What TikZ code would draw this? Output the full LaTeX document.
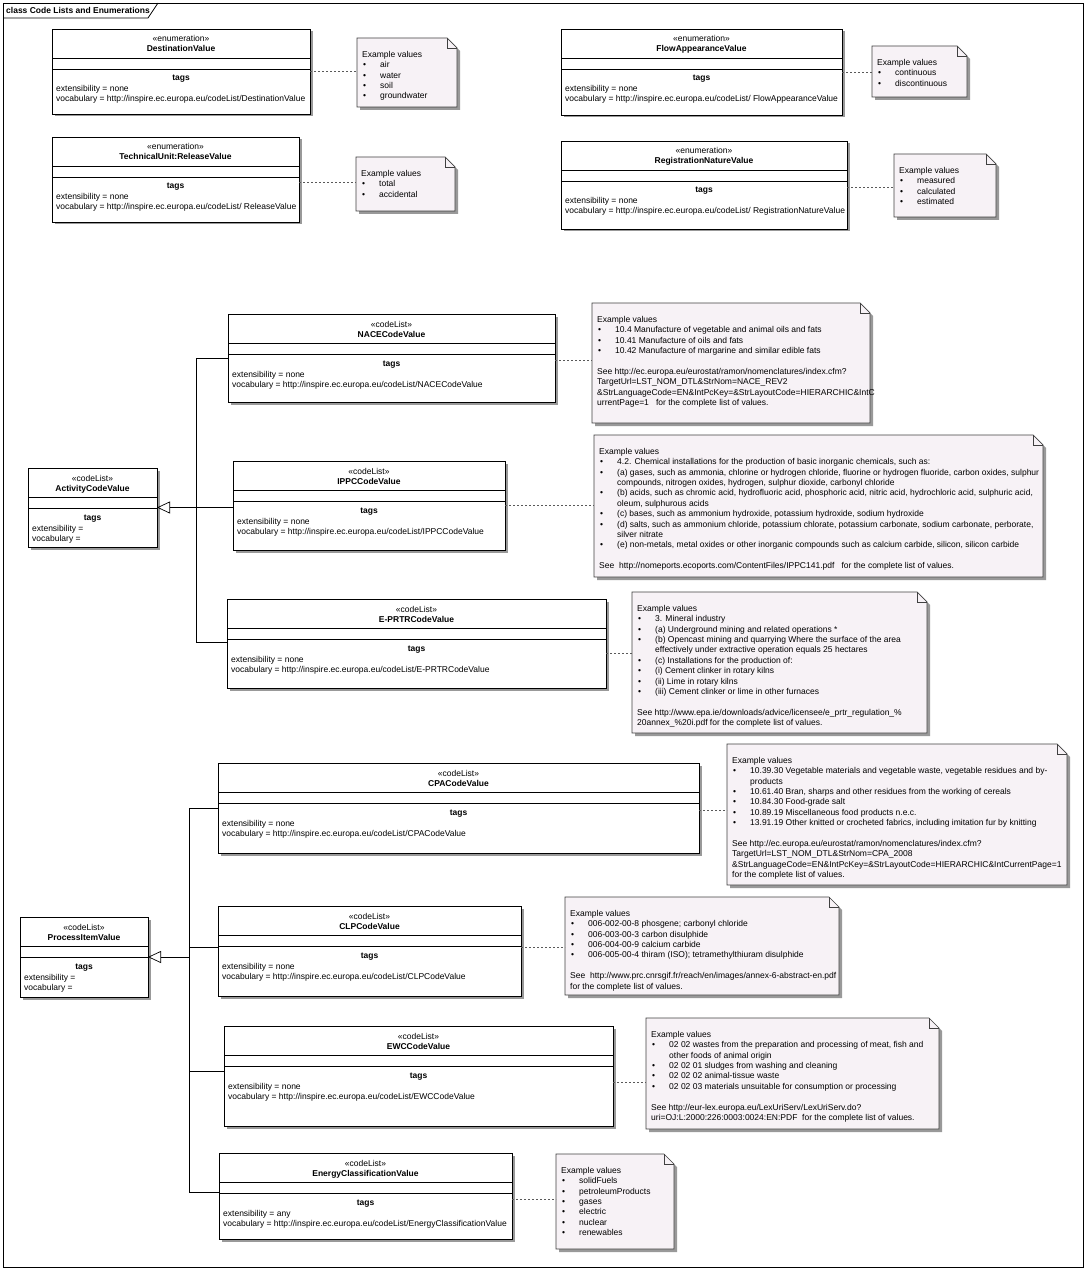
\documentclass[tikz,border=0pt]{standalone}
\usepackage{fontspec}
\setmainfont{Liberation Sans}
\usetikzlibrary{arrows.meta,shadows}

\definecolor{notefill}{RGB}{247,242,246}

% class box: name, x, y, width, height, stereotype, title, extensibility, vocabulary
\newcommand{\umlclass}[9]{%
  \node[classbox, minimum width=#4, minimum height=#5] (#1) at (#2,#3) {};
  \draw[sep] ([shift={(0,29)}]#1.north west) -- ([shift={(0,29)}]#1.north east);
  \draw[sep] ([shift={(0,40)}]#1.north west) -- ([shift={(0,40)}]#1.north east);
  \node[txt] (#1-st) at ([shift={(0,13)}]#1.north) {«#6»};
  \node[txt] (#1-nm) at ([shift={(0,23)}]#1.north) {\bfseries #7};
  \node[txt] (#1-tg) at ([shift={(0,52)}]#1.north) {\bfseries tags};
  \node[txt, anchor=base west] (#1-ex) at ([shift={(4,63)}]#1.north west) {extensibility = #8};
  \node[txt, anchor=base west] (#1-vo) at ([shift={(4,73)}]#1.north west) {vocabulary = #9};
}
% note: name, x, y, width, height, text
\newcommand{\umlnote}[6]{%
  \node[notebox, minimum width=#4, minimum height=#5] (#1) at (#2,#3) {};
  \fill[black!40] ([shift={(3,3)}]#1.north west) -- ([shift={(-7,3)}]#1.north east) -- ([shift={(3,13)}]#1.north east) -- ([shift={(3,3)}]#1.south east) -- ([shift={(3,3)}]#1.south west) -- cycle;
  \filldraw[notefill, draw=black!75, line width=0.7pt] (#1.north west) -- ([shift={(-10,0)}]#1.north east) -- ([shift={(0,10)}]#1.north east) -- (#1.south east) -- (#1.south west) -- cycle;
  \draw[black!75, line width=0.6pt] ([shift={(-10,0)}]#1.north east) -- ([shift={(-10,10)}]#1.north east) -- ([shift={(0,10)}]#1.north east);
  \node[notetext] (#1-t) at ([shift={(5,13)}]#1.north west) {#6};
}
\newcommand{\bitem}[1]{\makebox[18pt][l]{\hspace{1pt}\textbullet}#1}
\newcommand{\cont}[1]{\hspace*{18pt}#1}
% dashed note link: box, note, vertical offset from box centre
\newcommand{\notelink}[3]{%
  \path ([shift={(0,#3)}]#1.east) coordinate (#1-l);
  \draw[link] (#1-l) -- (#1-l -| #2.west);
}

\begin{document}
\begin{tikzpicture}[x=1pt, y=-1pt,
  every node/.style={font=\fontsize{8.5}{10.4}\selectfont},
  classbox/.style={draw, fill=white, line width=0.7pt, anchor=north west, inner sep=0, outer sep=0,
    drop shadow={shadow xshift=2.5pt, shadow yshift=-2.5pt, fill=black!40, opacity=1}},
  sep/.style={line width=0.6pt},
  notebox/.style={anchor=north west, inner sep=0, outer sep=0},
  txt/.style={inner sep=0, anchor=base},
  notetext/.style={inner sep=0, anchor=north west, align=left},
  gen/.style={line width=0.7pt},
  genarrow/.style={gen, -{Triangle[open, length=13pt, width=12pt]}},
  link/.style={black!65, dash pattern=on 2pt off 2pt, line width=0.7pt}]
\useasboundingbox (0,0) rectangle (1090,1273);
\draw[line width=0.8pt] (3,3) rectangle (1083,1267);
\draw[line width=0.8pt] (3,18) -- (148,18) -- (158,3);
\node[anchor=base west, inner sep=0] (frametitle) at (6,14) {\bfseries class Code Lists and Enumerations};

% enumerations
\umlclass{dest}{52}{29}{258}{85}{enumeration}{DestinationValue}{none}{http://inspire.ec.europa.eu/codeList/DestinationValue}
\umlclass{relv}{52}{137}{247}{85}{enumeration}{TechnicalUnit:ReleaseValue}{none}{http://inspire.ec.europa.eu/codeList/ ReleaseValue}
\umlclass{flow}{561}{29}{281}{86}{enumeration}{FlowAppearanceValue}{none}{http://inspire.ec.europa.eu/codeList/ FlowAppearanceValue}
\umlclass{regn}{561}{141}{286}{88}{enumeration}{RegistrationNatureValue}{none}{http://inspire.ec.europa.eu/codeList/ RegistrationNatureValue}

\umlnote{ndest}{357}{38}{100}{69}{Example values\\ \bitem{air}\\ \bitem{water}\\ \bitem{soil}\\ \bitem{groundwater}}
\umlnote{nrelv}{356}{157}{99}{54}{Example values\\ \bitem{total}\\ \bitem{accidental}}
\umlnote{nflow}{872}{46}{95}{51}{Example values\\ \bitem{continuous}\\ \bitem{discontinuous}}
\umlnote{nregn}{894}{154}{102}{63}{Example values\\ \bitem{measured}\\ \bitem{calculated}\\ \bitem{estimated}}

% activity code lists
\umlclass{actv}{28}{468}{129}{79}{codeList}{ActivityCodeValue}{}{}
\umlclass{nace}{228}{314}{327}{88}{codeList}{NACECodeValue}{none}{http://inspire.ec.europa.eu/codeList/NACECodeValue}
\umlclass{ippc}{233}{461}{272}{89}{codeList}{IPPCCodeValue}{none}{http://inspire.ec.europa.eu/codeList/IPPCCodeValue}
\umlclass{eprtr}{227}{599}{379}{89}{codeList}{E-PRTRCodeValue}{none}{http://inspire.ec.europa.eu/codeList/E-PRTRCodeValue}

\umlnote{nnace}{592}{303}{278}{120}{Example values\\
\bitem{10.4 Manufacture of vegetable and animal oils and fats}\\
\bitem{10.41 Manufacture of oils and fats}\\
\bitem{10.42 Manufacture of margarine and similar edible fats}\\[10.4pt]
See http://ec.europa.eu/eurostat/ramon/nomenclatures/index.cfm?\\
TargetUrl=LST\_NOM\_DTL\&StrNom=NACE\_REV2\\
\&StrLanguageCode=EN\&IntPcKey=\&StrLayoutCode=HIERARCHIC\&IntC\\
urrentPage=1 \ \ for the complete list of values.}
\umlnote{nippc}{594}{435}{449}{142}{Example values\\
\bitem{4.2. Chemical installations for the production of basic inorganic chemicals, such as:}\\
\bitem{(a) gases, such as ammonia, chlorine or hydrogen chloride, fluorine or hydrogen fluoride, carbon oxides, sulphur}\\
\cont{compounds, nitrogen oxides, hydrogen, sulphur dioxide, carbonyl chloride}\\
\bitem{(b) acids, such as chromic acid, hydrofluoric acid, phosphoric acid, nitric acid, hydrochloric acid, sulphuric acid,}\\
\cont{oleum, sulphurous acids}\\
\bitem{(c) bases, such as ammonium hydroxide, potassium hydroxide, sodium hydroxide}\\
\bitem{(d) salts, such as ammonium chloride, potassium chlorate, potassium carbonate, sodium carbonate, perborate,}\\
\cont{silver nitrate}\\
\bitem{(e) non-metals, metal oxides or other inorganic compounds such as calcium carbide, silicon, silicon carbide}\\[10.4pt]
See \ http://nomeports.ecoports.com/ContentFiles/IPPC141.pdf \ \ for the complete list of values.}
\umlnote{neprtr}{632}{592}{295}{141}{Example values\\
\bitem{3. Mineral industry}\\
\bitem{(a) Underground mining and related operations *}\\
\bitem{(b) Opencast mining and quarrying Where the surface of the area}\\
\cont{effectively under extractive operation equals 25 hectares}\\
\bitem{(c) Installations for the production of:}\\
\bitem{(i) Cement clinker in rotary kilns}\\
\bitem{(ii) Lime in rotary kilns}\\
\bitem{(iii) Cement clinker or lime in other furnaces}\\[10.4pt]
See http://www.epa.ie/downloads/advice/licensee/e\_prtr\_regulation\_\%\\
20annex\_\%20i.pdf for the complete list of values.}

% process item code lists
\umlclass{proc}{20}{917}{128}{80}{codeList}{ProcessItemValue}{}{}
\umlclass{cpa}{218}{763}{481}{90}{codeList}{CPACodeValue}{none}{http://inspire.ec.europa.eu/codeList/CPACodeValue}
\umlclass{clp}{218}{906}{303}{90}{codeList}{CLPCodeValue}{none}{http://inspire.ec.europa.eu/codeList/CLPCodeValue}
\umlclass{ewc}{224}{1026}{389}{100}{codeList}{EWCCodeValue}{none}{http://inspire.ec.europa.eu/codeList/EWCCodeValue}
\umlclass{enrg}{219}{1153}{293}{86}{codeList}{EnergyClassificationValue}{any}{http://inspire.ec.europa.eu/codeList/EnergyClassificationValue}

\umlnote{ncpa}{727}{744}{340}{141}{Example values\\
\bitem{10.39.30 Vegetable materials and vegetable waste, vegetable residues and by-}\\
\cont{products}\\
\bitem{10.61.40 Bran, sharps and other residues from the working of cereals}\\
\bitem{10.84.30 Food-grade salt}\\
\bitem{10.89.19 Miscellaneous food products n.e.c.}\\
\bitem{13.91.19 Other knitted or crocheted fabrics, including imitation fur by knitting}\\[10.4pt]
See http://ec.europa.eu/eurostat/ramon/nomenclatures/index.cfm?\\
TargetUrl=LST\_NOM\_DTL\&StrNom=CPA\_2008\\
\&StrLanguageCode=EN\&IntPcKey=\&StrLayoutCode=HIERARCHIC\&IntCurrentPage=1\\
for the complete list of values.}
\umlnote{nclp}{565}{897}{274}{98}{Example values\\
\bitem{006-002-00-8 phosgene; carbonyl chloride}\\
\bitem{006-003-00-3 carbon disulphide}\\
\bitem{006-004-00-9 calcium carbide}\\
\bitem{006-005-00-4 thiram (ISO); tetramethylthiuram disulphide}\\[10.4pt]
See \ http://www.prc.cnrsgif.fr/reach/en/images/annex-6-abstract-en.pdf\\
for the complete list of values.}
\umlnote{newc}{646}{1018}{293}{111}{Example values\\
\bitem{02 02 wastes from the preparation and processing of meat, fish and}\\
\cont{other foods of animal origin}\\
\bitem{02 02 01 sludges from washing and cleaning}\\
\bitem{02 02 02 animal-tissue waste}\\
\bitem{02 02 03 materials unsuitable for consumption or processing}\\[10.4pt]
See http://eur-lex.europa.eu/LexUriServ/LexUriServ.do?\\
uri=OJ:L:2000:226:0003:0024:EN:PDF \ for the complete list of values.}
\umlnote{nenrg}{556}{1154}{118}{95}{Example values\\ \bitem{solidFuels}\\ \bitem{petroleumProducts}\\ \bitem{gases}\\ \bitem{electric}\\ \bitem{nuclear}\\ \bitem{renewables}}

% generalisations
\coordinate (actj) at (actv.east -| 196,0);
\draw[gen] ([shift={(0,44)}]nace.north west) -| (actj);
\draw[gen] (ippc.west |- actj) -- (actj);
\draw[gen] ([shift={(0,43)}]eprtr.north west) -| (actj);
\draw[genarrow] (actj) -- (actv.east);

\coordinate (procj) at (proc.east -| 189,0);
\draw[gen] ([shift={(0,45)}]cpa.north west) -| (procj);
\draw[gen] ([shift={(0,41)}]clp.north west) -| (procj);
\draw[gen] ([shift={(0,45)}]ewc.north west) -| (procj);
\draw[gen] ([shift={(0,39)}]enrg.north west) -| (procj);
\draw[genarrow] (procj) -- (proc.east);

% note links
\notelink{dest}{ndest}{0}
\notelink{relv}{nrelv}{3}
\notelink{flow}{nflow}{0}
\notelink{regn}{nregn}{2}
\notelink{nace}{nnace}{2}
\notelink{ippc}{nippc}{0}
\notelink{eprtr}{neprtr}{10}
\notelink{cpa}{ncpa}{2}
\notelink{clp}{nclp}{-4}
\notelink{ewc}{newc}{6}
\notelink{enrg}{nenrg}{3}
\end{tikzpicture}
\end{document}
